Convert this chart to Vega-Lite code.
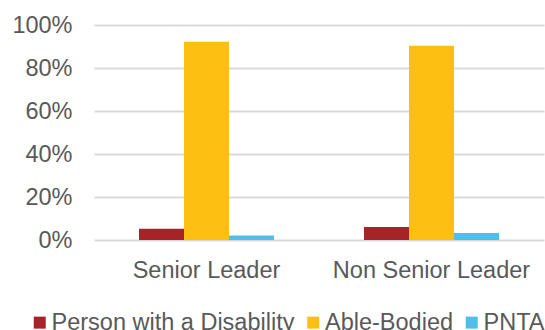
{
  "$schema": "https://vega.github.io/schema/vega-lite/v6.json",
  "width": 450,
  "height": 215,
  "autosize": {"type": "none"},
  "padding": {"left": 94, "top": 25, "right": 1, "bottom": 90},
  "config": {
    "view": {"stroke": null},
    "font": "Liberation Sans",
    "axis": {"labelFont": "Liberation Sans", "labelColor": "#595959", "labelFontSize": 23.5}
  },
  "data": {
    "values": [
      {"level": "Senior Leader", "group": "Person with a Disability", "share": 0.052},
      {"level": "Senior Leader", "group": "Able-Bodied", "share": 0.922},
      {"level": "Senior Leader", "group": "PNTA", "share": 0.021},
      {"level": "Non Senior Leader", "group": "Person with a Disability", "share": 0.060},
      {"level": "Non Senior Leader", "group": "Able-Bodied", "share": 0.904},
      {"level": "Non Senior Leader", "group": "PNTA", "share": 0.032}
    ]
  },
  "mark": {"type": "bar"},
  "encoding": {
    "x": {
      "field": "level",
      "type": "nominal",
      "sort": ["Senior Leader", "Non Senior Leader"],
      "scale": {"paddingInner": 0, "paddingOuter": 0},
      "axis": {
        "title": null,
        "labelAngle": 0,
        "domain": false,
        "ticks": false,
        "labelBaseline": "alphabetic",
        "labelPadding": 37,
        "labelLimit": 0
      }
    },
    "xOffset": {
      "field": "group",
      "type": "nominal",
      "sort": ["Person with a Disability", "Able-Bodied", "PNTA"],
      "scale": {"paddingInner": 0, "paddingOuter": 1.096}
    },
    "y": {
      "field": "share",
      "type": "quantitative",
      "scale": {"domain": [0, 1], "nice": false},
      "axis": {
        "title": null,
        "format": ".0%",
        "values": [0, 0.2, 0.4, 0.6, 0.8, 1],
        "domain": false,
        "ticks": false,
        "gridColor": "#d9d9d9",
        "gridWidth": 2,
        "labelPadding": 22
      }
    },
    "color": {
      "field": "group",
      "type": "nominal",
      "sort": ["Person with a Disability", "Able-Bodied", "PNTA"],
      "scale": {
        "domain": ["Person with a Disability", "Able-Bodied", "PNTA"],
        "range": ["#a62328", "#fdc012", "#4fbeea"]
      },
      "legend": {
        "orient": "none",
        "legendX": -66,
        "legendY": 285.5,
        "padding": 0,
        "direction": "horizontal",
        "title": null,
        "symbolType": "square",
        "symbolSize": 144,
        "symbolStrokeWidth": 0,
        "labelFont": "Liberation Sans",
        "labelFontSize": 23.5,
        "labelColor": "#595959",
        "labelLimit": 0,
        "labelOffset": 0,
        "columnPadding": 6.5
      }
    }
  }
}
